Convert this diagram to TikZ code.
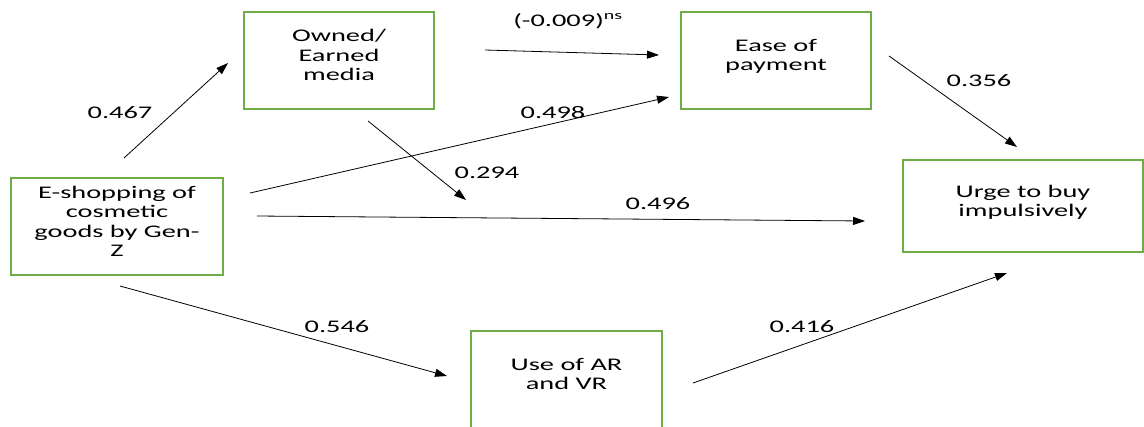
\documentclass[tikz,border=0pt]{standalone}
\usepackage{fontspec}
\setmainfont{Carlito}[FakeStretch=1.6]
\usetikzlibrary{arrows.meta}
\definecolor{boxgreen}{RGB}{112,173,71}

\begin{document}
\begin{tikzpicture}[x=0.75pt, y=-0.75pt,
  box/.style={draw=boxgreen, line width=1.5pt, align=center, text depth=8pt,
    font=\fontsize{13.3}{14.6}\selectfont, minimum width=143pt, minimum height=73pt},
  coef/.style={font=\fontsize{13.3}{14.6}\selectfont, inner sep=0pt},
  link/.style={line width=0.6pt, -{Triangle[length=9pt,width=6pt]}}]
% Canvas of 1144 x 426 px
\useasboundingbox (0,0) rectangle (1144,426);
\clip (0,0) rectangle (1144,426);

% Draw the boxes
\node[box] (owned) at (339,60.5) {Owned/\\Earned\\media};
\node[box] (ease) at (776,60.5) {Ease of\\payment};
\node[box, minimum width=159pt] (eshop) at (117,226.5) {E-shopping of\\cosmetic\\goods by Gen-\\Z};
\node[box, minimum width=180pt, minimum height=69pt] (urge) at (1023,206) {Urge to buy\\impulsively};
\node[box] (arvr) at (566.5,379.5) {Use of AR\\and VR};

% Arrow ends (the arrows stop short of the boxes)
\coordinate (eshop-a) at (124,158);  \coordinate (owned-a) at (228,63);
\coordinate (owned-b) at (485,50);   \coordinate (ease-b) at (659,55);
\coordinate (eshop-c) at (250,193);  \coordinate (ease-c) at (669,97);
\coordinate (owned-d) at (368,121);  \coordinate (mid-d) at (466,200);
\coordinate (eshop-e) at (257,216);  \coordinate (urge-e) at (865,221);
\coordinate (ease-f) at (889,56);    \coordinate (urge-f) at (1017,147);
\coordinate (eshop-g) at (120,286);  \coordinate (arvr-g) at (447,376);
\coordinate (arvr-h) at (693,383);   \coordinate (urge-h) at (1007,273);

% Draw the paths
\draw[link] (eshop-a) -- (owned-a);
\draw[link] (owned-b) -- (ease-b);
\draw[link] (eshop-c) -- (ease-c);
\draw[link] (owned-d) -- (mid-d);
\draw[link] (eshop-e) -- (urge-e);
\draw[link] (ease-f) -- (urge-f);
\draw[link] (eshop-g) -- (arvr-g);
\draw[link] (arvr-h) -- (urge-h);

% Path coefficients
\node[coef] (c467) at (120,113) {0.467};
\node[coef] (c009) at (568,21) {(-0.009)\textsuperscript{ns}};
\node[coef] (c498) at (553,113) {0.498};
\node[coef] (c294) at (487,173) {0.294};
\node[coef] (c496) at (658,204) {0.496};
\node[coef] (c356) at (979,81) {0.356};
\node[coef] (c546) at (337,327) {0.546};
\node[coef] (c416) at (802,327) {0.416};
\end{tikzpicture}
\end{document}
